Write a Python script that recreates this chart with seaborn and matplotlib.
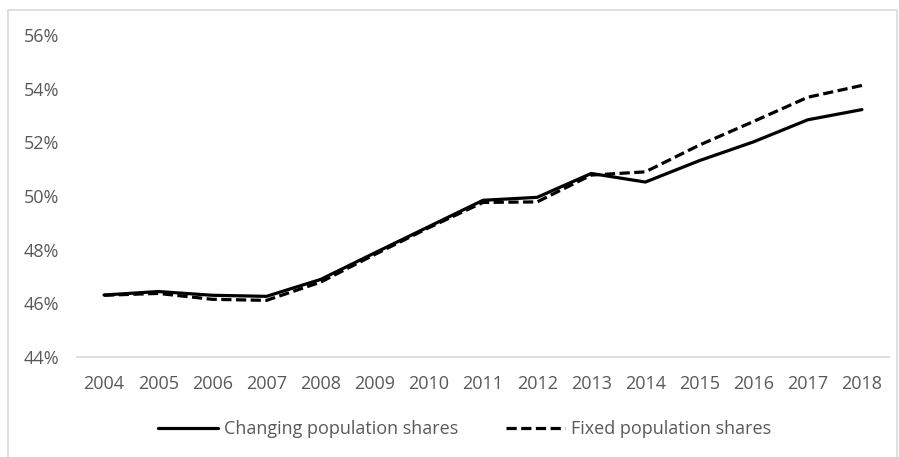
import matplotlib
matplotlib.use("Agg")
import matplotlib.pyplot as plt
import seaborn as sns
import numpy as np
import pandas as pd
from matplotlib.patches import Rectangle
from matplotlib.ticker import FuncFormatter

##############################################################################
# Data
##############################################################################

years = list(range(2004, 2019))
changing_shares = [46.31, 46.44, 46.30, 46.26, 46.89, 47.88, 48.86, 49.84, 49.95,
                   50.84, 50.52, 51.32, 52.02, 52.84, 53.22]
fixed_shares = [46.30, 46.37, 46.15, 46.11, 46.79, 47.82, 48.82, 49.76, 49.78,
                50.78, 50.90, 51.90, 52.78, 53.68, 54.12]

series_names = ["Changing population shares", "Fixed population shares"]

df = pd.DataFrame({
    "year": years * 2,
    "share": changing_shares + fixed_shares,
    "series": [series_names[0]] * len(years) + [series_names[1]] * len(years),
})

##############################################################################
# Style
##############################################################################

sns.set_theme(style="white")
plt.rcParams["font.family"] = ["Open Sans", "DejaVu Sans"]
text_color = "#595959"
grid_color = "#d9d9d9"
font_size = 13

W, H = 899, 457
fig = plt.figure(figsize=(W / 100, H / 100), dpi=100)
ax = fig.add_axes([77 / W, 1 - 357 / H, (889 - 77) / W, (357 - 35) / H])

sns.lineplot(
    data=df,
    x="year",
    y="share",
    hue="series",
    style="series",
    palette=["black", "black"],
    dashes={series_names[0]: "", series_names[1]: (3.2, 1.4)},
    linewidth=2.3,
    ax=ax,
    legend=False,
)

ax.set_xlim(years[0] - 0.5, years[-1] + 0.5)
ax.set_ylim(44, 56)
ax.set_xticks(years)
ax.set_yticks(np.arange(44, 57, 2))
ax.yaxis.set_major_formatter(FuncFormatter(lambda v, _: f"{v:.0f}%"))
ax.set_xlabel("")
ax.set_ylabel("")

for side in ["top", "right", "left"]:
    ax.spines[side].set_visible(False)
ax.spines["bottom"].set_color(grid_color)
ax.spines["bottom"].set_linewidth(1.2)
ax.tick_params(axis="both", length=0, labelsize=font_size, colors=text_color)
ax.tick_params(axis="y", pad=13)
ax.tick_params(axis="x", pad=13)

# Legend below the plot
handles = [
    plt.Line2D([], [], color="black", lw=2.3),
    plt.Line2D([], [], color="black", lw=2.3, dashes=(3.2, 1.4)),
]
leg = fig.legend(
    handles,
    series_names,
    loc="center",
    bbox_to_anchor=(465 / W, 1 - 429 / H),
    ncol=2,
    frameon=False,
    fontsize=font_size,
    handlelength=3.3,
    handletextpad=0.35,
    columnspacing=2.6,
)
for t in leg.get_texts():
    t.set_color(text_color)

# Outer chart border (bottom edge is cut off in the reference)
fig.patches.append(Rectangle(
    (8 / W, -0.05), (897 - 8) / W, 1 - 10 / H + 0.05,
    transform=fig.transFigure, fill=False, edgecolor=grid_color, linewidth=1.2,
))

fig.savefig("out.png", dpi=100)
